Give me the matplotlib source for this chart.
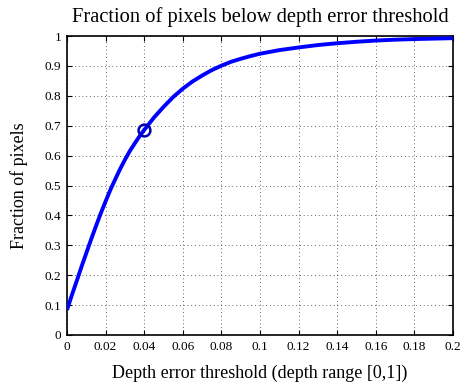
import matplotlib
matplotlib.use("Agg")
import matplotlib.pyplot as plt

threshold = [0.0, 0.0025, 0.005, 0.0075, 0.01, 0.0125, 0.015, 0.0175, 0.02, 0.0225,
             0.025, 0.0275, 0.03, 0.0325, 0.035, 0.0375, 0.04, 0.045, 0.05, 0.055,
             0.06, 0.065, 0.07, 0.075, 0.08, 0.085, 0.09, 0.095, 0.10, 0.11,
             0.12, 0.13, 0.14, 0.15, 0.16, 0.17, 0.18, 0.19, 0.20]
fraction = [0.084, 0.133, 0.180, 0.228, 0.274, 0.320, 0.364, 0.407, 0.447, 0.486,
            0.521, 0.555, 0.586, 0.615, 0.640, 0.664, 0.686, 0.727, 0.763, 0.796,
            0.824, 0.848, 0.868, 0.886, 0.901, 0.914, 0.924, 0.933, 0.941, 0.953,
            0.962, 0.970, 0.976, 0.981, 0.985, 0.988, 0.990, 0.9915, 0.993]
marker_x = [0.04]
marker_y = [0.686]

xticks = [0, 0.02, 0.04, 0.06, 0.08, 0.1, 0.12, 0.14, 0.16, 0.18, 0.2]
xticklabels = ["0", "0.02", "0.04", "0.06", "0.08", "0.1", "0.12", "0.14", "0.16", "0.18", "0.2"]
yticks = [0, 0.1, 0.2, 0.3, 0.4, 0.5, 0.6, 0.7, 0.8, 0.9, 1]
yticklabels = ["0", "0.1", "0.2", "0.3", "0.4", "0.5", "0.6", "0.7", "0.8", "0.9", "1"]

plt.rcParams['font.family'] = ['Liberation Serif', 'DejaVu Serif']

fig = plt.figure(figsize=(4.62, 3.88), dpi=100)
ax = fig.add_axes([0.145, 0.1366, 0.8355, 0.7704])

ax.plot(threshold, fraction, color='#0000ff', linewidth=2.8, solid_capstyle='butt',
        solid_joinstyle='round', zorder=3)
ax.plot(marker_x, marker_y, linestyle='none', marker='o', markersize=8.5,
        markerfacecolor='none', markeredgecolor='#0000b0', markeredgewidth=1.8, zorder=4)

ax.set_xlim(0, 0.2)
ax.set_ylim(0, 1)
ax.set_xticks(xticks)
ax.set_xticklabels(xticklabels)
ax.set_yticks(yticks)
ax.set_yticklabels(yticklabels)
ax.tick_params(direction='in', top=True, right=True, length=3.5, width=0.8, labelsize=9.5, pad=4)
ax.grid(True, color='#333333', linestyle=(0, (1, 3.5)), linewidth=0.6)
for s in ax.spines.values():
    s.set_linewidth(1.2)

ax.set_title("Fraction of pixels below depth error threshold", fontsize=14.8, pad=10)
ax.set_xlabel("Depth error threshold (depth range [0,1])", fontsize=13, labelpad=9)
ax.set_ylabel("Fraction of pixels", fontsize=13, labelpad=12)

fig.savefig("out.png", dpi=100)
